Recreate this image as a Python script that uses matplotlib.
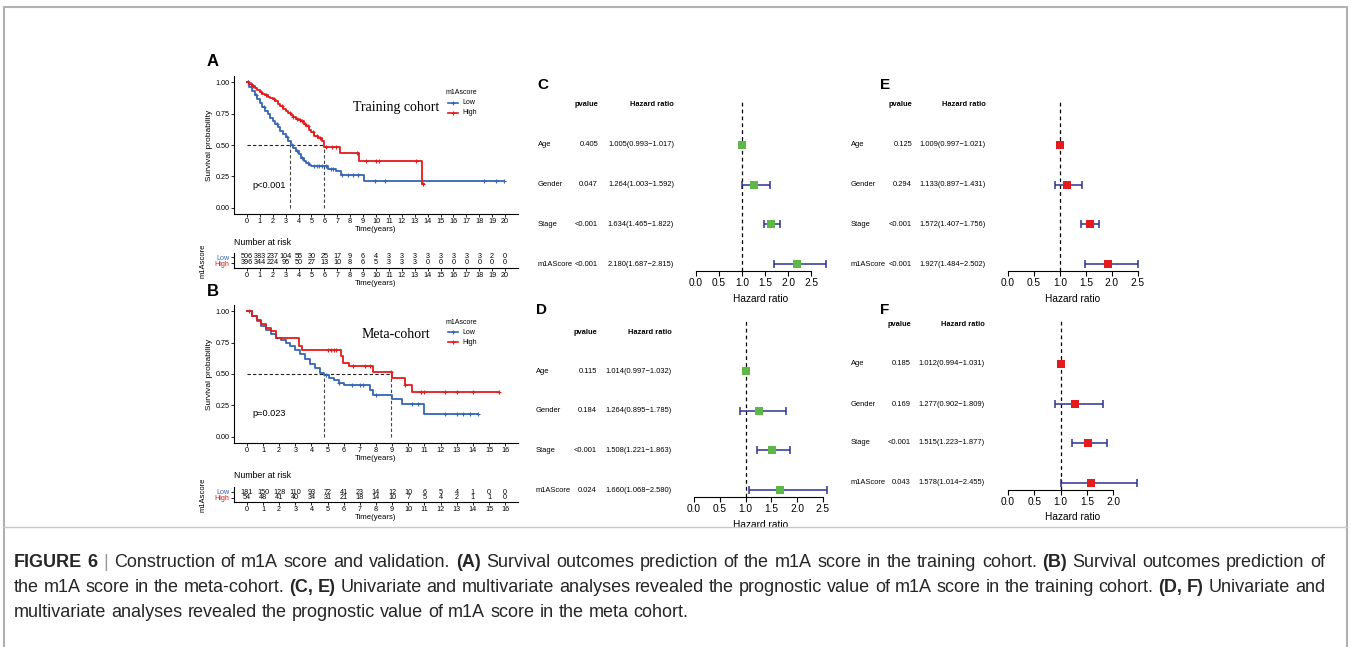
"""Figure 6: m1A score KM curves (training / meta cohort) and Cox forest plots."""
import matplotlib
matplotlib.use("Agg")
import matplotlib.pyplot as plt
from matplotlib.lines import Line2D
import numpy as np

plt.rcParams["font.family"] = ["Liberation Sans", "DejaVu Sans"]

W, H = 1351, 647
RED = "#E41A1C"
BLUE = "#3566B8"
NAVY = "#2E3192"
GREEN = "#5DB847"

# ---- KM data, panel A (training cohort) ----
a_high_t = [0, 0.2, 0.4, 0.6, 0.8, 1.0, 1.2, 1.4, 1.6, 1.8, 2.0, 2.2, 2.4, 2.6, 2.8, 3.0, 3.2,
            3.4, 3.6, 3.8, 4.0, 4.2, 4.4, 4.6, 4.8, 5.0, 5.2, 5.5, 5.8, 6.0, 7.2, 8.7, 13.6]
a_high_s = [1.0, 0.985, 0.97, 0.955, 0.94, 0.925, 0.91, 0.895, 0.88, 0.875, 0.865, 0.85, 0.83,
            0.81, 0.79, 0.775, 0.755, 0.74, 0.725, 0.71, 0.70, 0.69, 0.67, 0.65, 0.62, 0.60,
            0.57, 0.555, 0.535, 0.485, 0.437, 0.376, 0.19]
a_high_end = 13.7
a_high_cens = [0.1, 0.3, 0.5, 1.1, 1.5, 2.1, 2.7, 3.3, 3.6, 3.9, 4.1, 4.3, 4.5, 4.7, 5.1, 5.4,
               5.7, 6.1, 6.6, 6.9, 8.5, 9.2, 10.0, 10.2, 13.1, 13.65]
a_low_t = [0, 0.2, 0.4, 0.6, 0.8, 1.0, 1.2, 1.4, 1.6, 1.8, 2.0, 2.2, 2.4, 2.6, 2.8, 3.0, 3.2,
           3.4, 3.6, 3.8, 4.0, 4.2, 4.4, 4.6, 4.8, 5.0, 6.3, 6.9, 7.3, 9.1]
a_low_s = [1.0, 0.96, 0.93, 0.9, 0.865, 0.835, 0.805, 0.775, 0.745, 0.715, 0.69, 0.665, 0.64,
           0.61, 0.585, 0.56, 0.53, 0.50, 0.475, 0.45, 0.425, 0.40, 0.375, 0.355, 0.34, 0.33,
           0.305, 0.29, 0.257, 0.21]
a_low_end = 19.9
a_low_cens = [0.1, 0.7, 1.3, 2.3, 3.1, 3.5, 3.9, 4.3, 4.7, 5.2, 5.4, 5.6, 5.8, 6.1, 6.5, 6.7,
              7.4, 7.8, 8.2, 8.6, 9.9, 10.7, 18.4, 19.3, 19.9]
a_medians = [3.35, 6.0]
a_years = list(range(0, 21))
a_risk_low = [506, 383, 237, 104, 55, 30, 25, 17, 9, 6, 4, 3, 3, 3, 3, 3, 3, 3, 3, 2, 0]
a_risk_high = [396, 344, 224, 95, 50, 27, 13, 10, 8, 6, 5, 3, 3, 3, 0, 0, 0, 0, 0, 0, 0]

# ---- KM data, panel B (meta-cohort) ----
b_high_t = [0, 0.3, 0.6, 0.9, 1.2, 1.5, 1.8, 3.2, 3.4, 5.8, 5.95, 6.3, 7.8, 9.0, 9.8, 10.2]
b_high_s = [1.0, 0.96, 0.93, 0.9, 0.87, 0.84, 0.79, 0.72, 0.69, 0.64, 0.59, 0.56, 0.515,
            0.467, 0.414, 0.355]
b_high_end = 15.6
b_high_cens = [0.1, 5.0, 5.2, 5.4, 5.5, 6.6, 7.3, 7.6, 8.9, 9.8, 10.8, 11.0, 12.3, 13.0, 14.0,
               15.6]
b_low_t = [0, 0.3, 0.6, 0.9, 1.2, 1.5, 1.8, 2.1, 2.4, 2.7, 3.0, 3.3, 3.6, 3.9, 4.2, 4.5, 4.8,
           5.1, 5.4, 5.7, 6.0, 7.6, 7.8, 9.0, 9.6, 11.0]
b_low_s = [1.0, 0.96, 0.92, 0.88, 0.85, 0.82, 0.79, 0.77, 0.75, 0.72, 0.69, 0.66, 0.62, 0.58,
           0.545, 0.51, 0.49, 0.47, 0.45, 0.43, 0.415, 0.37, 0.335, 0.30, 0.264, 0.18]
b_low_end = 14.3
b_low_cens = [4.9, 5.7, 6.5, 7.0, 7.2, 8.0, 10.2, 10.6, 12.3, 13.0, 13.4, 13.8, 14.3]
b_medians = [4.75, 8.95]
b_years = list(range(0, 17))
b_risk_low = [181, 150, 128, 110, 93, 72, 41, 23, 14, 12, 10, 6, 5, 4, 1, 0, 0]
b_risk_high = [54, 48, 41, 40, 34, 31, 21, 18, 14, 10, 7, 5, 4, 2, 1, 1, 0]

# ---- Cox forest data ----
variables = ["Age", "Gender", "Stage", "m1AScore"]
c_p = ["0.405", "0.047", "<0.001", "<0.001"]
c_hr = [1.005, 1.264, 1.634, 2.180]
c_lo = [0.993, 1.003, 1.465, 1.687]
c_hi = [1.017, 1.592, 1.822, 2.815]
d_p = ["0.115", "0.184", "<0.001", "0.024"]
d_hr = [1.014, 1.264, 1.508, 1.660]
d_lo = [0.997, 0.895, 1.221, 1.068]
d_hi = [1.032, 1.785, 1.863, 2.580]
e_p = ["0.125", "0.294", "<0.001", "<0.001"]
e_hr = [1.009, 1.133, 1.572, 1.927]
e_lo = [0.997, 0.897, 1.407, 1.484]
e_hi = [1.021, 1.431, 1.756, 2.502]
f_p = ["0.185", "0.169", "<0.001", "0.043"]
f_hr = [1.012, 1.277, 1.515, 1.578]
f_lo = [0.994, 0.902, 1.223, 1.014]
f_hi = [1.031, 1.809, 1.877, 2.455]

caption_lines = [
    "**FIGURE 6** | Construction of m1A score and validation. **(A)** Survival outcomes prediction "
    "of the m1A score in the training cohort. **(B)** Survival outcomes prediction of",
    "the m1A score in the meta-cohort. **(C, E)** Univariate and multivariate analyses revealed "
    "the prognostic value of m1A score in the training cohort. **(D, F)** Univariate and",
    "multivariate analyses revealed the prognostic value of m1A score in the meta cohort.",
]

fig = plt.figure(figsize=(W / 100, H / 100), dpi=100)


def fx(x):
    return x / W


def fy(y):
    return 1 - y / H


def ftext(x, y, s, **kw):
    kw.setdefault("va", "center")
    kw.setdefault("ha", "left")
    return fig.text(fx(x), fy(y), s, **kw)


def fline(xs, ys, **kw):
    fig.add_artist(Line2D([fx(x) for x in xs], [fy(y) for y in ys],
                          transform=fig.transFigure, **kw))


def px_axes(left, top, right, bottom):
    return fig.add_axes([fx(left), fy(bottom), (right - left) / W, (bottom - top) / H])


def plain(ax):
    ax.set_facecolor("none")
    for s in ("top", "right"):
        ax.spines[s].set_visible(False)
    for s in ("left", "bottom"):
        ax.spines[s].set_linewidth(0.8)


# ---------------- KM panels ----------------
def km_curve(ax, t, s, t_end, cens, color):
    ax.step(t + [t_end], s + [s[-1]], where="post", color=color, lw=1.3, zorder=3)
    idx = np.searchsorted(t, cens, side="right") - 1
    ax.plot(cens, np.array(s)[idx], ls="none", marker="+", ms=3.5, mew=0.8, color=color,
            zorder=4)


def km_panel(top, bottom, xmax, high, low, medians, letter, title, title_y, ptxt, p_y):
    ax = px_axes(234, top, 518, bottom)
    plain(ax)
    ax.set_xlim(-0.05 * xmax, 1.05 * xmax)
    ax.set_ylim(-0.05, 1.05)
    km_curve(ax, *low, BLUE)
    km_curve(ax, *high, RED)
    ax.plot([0, max(medians)], [0.5, 0.5], color="#222222", lw=0.8, ls=(0, (3, 2)), zorder=2)
    for m in medians:
        ax.plot([m, m], [0, 0.5], color="#444444", lw=0.8, ls=(0, (3, 2)), zorder=2)
    ax.set_xticks(range(0, xmax + 1))
    ax.set_yticks([0, 0.25, 0.5, 0.75, 1.0])
    ax.set_yticklabels(["0.00", "0.25", "0.50", "0.75", "1.00"])
    ax.tick_params(labelsize=5.2, length=2, width=0.6, pad=1.2)
    ax.set_xlabel("Time(years)", fontsize=5.6, labelpad=0.5)
    ax.set_ylabel("Survival probability", fontsize=6, labelpad=2)
    ftext(207, top - 14, letter, fontsize=12, fontweight="bold")
    ftext(396, title_y, title, fontsize=10, ha="center",
          family=["Liberation Serif", "DejaVu Serif"])
    ftext(252, p_y, ptxt, fontsize=6.6)
    # legend
    ftext(446, top + 17, "m1Ascore", fontsize=5)
    for k, (lab, col) in enumerate([("Low", BLUE), ("High", RED)]):
        yy = top + 27 + 10 * k
        fline([448, 458], [yy, yy], color=col, lw=1.2)
        fig.add_artist(Line2D([fx(453)], [fy(yy)], transform=fig.transFigure, marker="+",
                              ms=3, mew=0.8, color=col))
        ftext(462, yy, lab, fontsize=5)
    return ax


def risk_table(top, bottom, low_y, high_y, xmax, years, low, high):
    ax = px_axes(234, top, 518, bottom)
    plain(ax)
    ppu = high_y - low_y
    ax.set_ylim(1 - (bottom - high_y) / ppu, 2 + (low_y - top) / ppu)
    ax.set_xlim(-0.05 * xmax, 1.05 * xmax)
    for t, nl, nh in zip(years, low, high):
        ax.text(t, 2, str(nl), ha="center", va="center", fontsize=5.2)
        ax.text(t, 1, str(nh), ha="center", va="center", fontsize=5.2)
    ax.set_xticks(years)
    ax.set_yticks([2, 1])
    ax.set_yticklabels(["Low", "High"])
    for lab, col in zip(ax.get_yticklabels(), [BLUE, RED]):
        lab.set_color(col)
    ax.tick_params(labelsize=5.2, length=2, width=0.6, pad=1.2)
    ax.set_xlabel("Time(years)", fontsize=5.6, labelpad=0.5)
    ftext(234, top - 11, "Number at risk", fontsize=6.3)
    ftext(203, (top + bottom) / 2, "m1Ascore", fontsize=5.5, rotation=90, ha="center")
    return ax


km_panel(76, 214, 20,
         (a_high_t, a_high_s, a_high_end, a_high_cens),
         (a_low_t, a_low_s, a_low_end, a_low_cens),
         a_medians, "A", "Training cohort", 107, "p<0.001", 185)
risk_table(253, 268, 257, 263, 20, a_years, a_risk_low, a_risk_high)

km_panel(305, 443, 16,
         (b_high_t, b_high_s, b_high_end, b_high_cens),
         (b_low_t, b_low_s, b_low_end, b_low_cens),
         b_medians, "B", "Meta-cohort", 335, "p=0.023", 413)
risk_table(487, 502, 492, 497.5, 16, b_years, b_risk_low, b_risk_high)


# ---------------- forest panels ----------------
def forest(geo, pvals, hr, lo, hi, color):
    rows = geo["rows"]
    top, axis_y = geo["top"], geo["axis"]
    n = len(variables)
    ppu = (rows[-1] - rows[0]) / (n - 1)
    ax = px_axes(geo["x0"], top, geo["x1"], axis_y)
    ax.set_facecolor("none")
    for s in ("top", "right", "left"):
        ax.spines[s].set_visible(False)
    ax.spines["bottom"].set_linewidth(0.8)
    ax.set_xlim(0, max(hi))
    ax.set_ylim(1 - (axis_y - rows[-1]) / ppu, n + (rows[0] - top) / ppu)
    ypos = np.arange(n, 0, -1)
    hr, lo, hi = map(np.array, (hr, lo, hi))
    ax.axvline(1, color="black", lw=0.9, ls=(0, (3, 2.5)), zorder=1)
    ax.errorbar(hr, ypos, xerr=[hr - lo, hi - hr], fmt="none", ecolor=NAVY, elinewidth=1.1,
                capsize=2.6, capthick=1.1, zorder=2)
    ax.scatter(hr, ypos, marker="s", s=26, color=color, zorder=3, linewidths=0)
    ticks = np.arange(0, max(hi) + 1e-9, 0.5)
    ax.set_xticks(ticks)
    ax.set_xticklabels([f"{t:.1f}" for t in ticks])
    ax.spines["bottom"].set_bounds(0, ticks[-1])
    ax.set_yticks([])
    ax.tick_params(axis="x", labelsize=7.3, length=3.5, width=0.8, pad=1.5)
    ax.set_xlabel("Hazard ratio", fontsize=7.3, labelpad=4)
    # table
    ftext(geo["letter"][0], geo["letter"][1], geo["name"], fontsize=11, fontweight="bold")
    ftext(geo["p"], geo["head"], "pvalue", fontsize=5.4, fontweight="bold", ha="right")
    ftext(geo["hr"], geo["head"], "Hazard ratio", fontsize=5.4, fontweight="bold", ha="right")
    for y, v, p, h, l, u in zip(rows, variables, pvals, hr, lo, hi):
        ftext(geo["label"], y, v, fontsize=5.4)
        ftext(geo["p"], y, p, fontsize=5.4, ha="right")
        ftext(geo["hr"], y, f"{h:.3f}({l:.3f}\u2212{u:.3f})", fontsize=5.4, ha="right")


geo_c = dict(name="C", letter=(537, 85), label=538, p=598, hr=674, head=104,
             rows=[145, 185, 224, 264], top=100, axis=271, x0=696, x1=826)
geo_d = dict(name="D", letter=(536, 310), label=536, p=597, hr=672, head=332,
             rows=[371, 411, 450, 490], top=320, axis=497, x0=694, x1=827)
geo_e = dict(name="E", letter=(880, 85), label=851, p=912, hr=986, head=104,
             rows=[145, 185, 224, 264], top=100, axis=271, x0=1008, x1=1138)
geo_f = dict(name="F", letter=(880, 310), label=851, p=911, hr=985, head=324,
             rows=[364, 404, 443, 483], top=319, axis=490, x0=1008, x1=1137)

forest(geo_c, c_p, c_hr, c_lo, c_hi, GREEN)
forest(geo_d, d_p, d_hr, d_lo, d_hi, GREEN)
forest(geo_e, e_p, e_hr, e_lo, e_hi, RED)
forest(geo_f, f_p, f_hr, f_lo, f_hi, RED)

# ---------------- frame and caption ----------------
fline([3.5, 3.5, 1347, 1347], [H + 5, 6.5, 6.5, H + 5], color="#b0b0b0", lw=1.5)
fline([3.5, 1347], [527, 527], color="#c8c8c8", lw=1.0)

renderer = fig.canvas.get_renderer()
cap_left, cap_right = 14, 1325
cap_size = 13
for i, line in enumerate(caption_lines):
    tokens = []
    for j, seg in enumerate(line.split("**")):
        for w in seg.split():
            tokens.append((w, j % 2 == 1))
    y = 567 + 25 * i
    arts = []
    for w, bold in tokens:
        col = "#9a9a9a" if w == "|" else "#262626"
        arts.append(ftext(0, y, w, fontsize=cap_size, va="baseline",
                          fontweight="bold" if bold else "normal", color=col))
    widths = [a.get_window_extent(renderer).width for a in arts]
    justify = i < len(caption_lines) - 1
    natural = 0.278 * cap_size * 100 / 72
    gap = (cap_right - cap_left - sum(widths)) / (len(arts) - 1) if justify else natural
    x = cap_left
    for a, w in zip(arts, widths):
        a.set_x(fx(x))
        x += w + gap

fig.savefig("out.png", dpi=100, facecolor="white")
